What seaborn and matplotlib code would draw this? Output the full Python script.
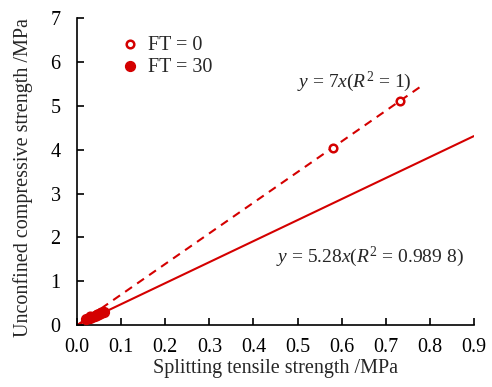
import matplotlib
matplotlib.use("Agg")
import matplotlib.pyplot as plt
import seaborn as sns
import pandas as pd

# Data
ft0_x = [0.030, 0.045, 0.055, 0.581, 0.732]
ft0_y = [0.20, 0.26, 0.30, 4.05, 5.10]
ft30_x = [0.020, 0.028, 0.034, 0.040, 0.045, 0.050, 0.055, 0.060]
ft30_y = [0.14, 0.17, 0.19, 0.21, 0.23, 0.25, 0.27, 0.29]
fit0_x = [0.0, 0.785]
fit0_y = [0.0, 5.48]
fit30_x = [0.0, 0.9]
fit30_y = [0.0, 4.31]
xticks = [0.0, 0.1, 0.2, 0.3, 0.4, 0.5, 0.6, 0.7, 0.8, 0.9]
yticks = [0, 1, 2, 3, 4, 5, 6, 7]

RED = "#D40000"
FS = 14.5

sns.set_theme(style="white")
plt.rcParams["font.family"] = ["Liberation Serif", "DejaVu Serif"]
plt.rcParams["mathtext.fontset"] = "custom"
plt.rcParams["mathtext.rm"] = "Liberation Serif"
plt.rcParams["mathtext.it"] = "Liberation Serif:italic"

fig = plt.figure(figsize=(4.92, 3.87), dpi=100)
ax = fig.add_axes([0.157, 0.160, 0.806, 0.793])

df0 = pd.DataFrame({"x": fit0_x, "y": fit0_y})
df30 = pd.DataFrame({"x": fit30_x, "y": fit30_y})
sns.lineplot(data=df0, x="x", y="y", ax=ax, color=RED, lw=1.5,
             linestyle=(0, (4, 3)), legend=False)
sns.lineplot(data=df30, x="x", y="y", ax=ax, color=RED, lw=1.5, legend=False)

p0 = pd.DataFrame({"x": ft0_x, "y": ft0_y})
p30 = pd.DataFrame({"x": ft30_x, "y": ft30_y})
sns.scatterplot(data=p0, x="x", y="y", ax=ax, facecolor="white", s=30,
                edgecolor=RED, linewidth=1.8, label="FT = 0", zorder=3)
sns.scatterplot(data=p30, x="x", y="y", ax=ax, color=RED, s=50,
                edgecolor=RED, linewidth=1.0, label="FT = 30", zorder=4)

ax.set_xlim(0, 0.9)
ax.set_ylim(0, 7)
ax.set_xticks(xticks)
ax.set_yticks(yticks)
ax.set_xticklabels([f"{v:.1f}" for v in xticks])
ax.set_yticklabels([str(v) for v in yticks])
ax.tick_params(direction="in", length=5, width=1.2, labelsize=FS,
               bottom=True, left=True, top=False, right=False, colors="black")
ax.tick_params(axis="x", pad=9)
ax.tick_params(axis="y", pad=12)
for s in ["top", "right"]:
    ax.spines[s].set_visible(False)
for s in ["left", "bottom"]:
    ax.spines[s].set_color("black")
    ax.spines[s].set_linewidth(1.2)

ax.set_xlabel("Splitting tensile strength /MPa", fontsize=FS, labelpad=2)
ax.set_ylabel("Unconfined compressive strength /MPa", fontsize=FS)
ax.yaxis.set_label_coords(-0.112, 0.48)

ax.text(0.498, 5.42, r"$y$ = 7$x$($R^2$ = 1)", fontsize=14, ha="left", va="baseline")
ax.text(0.452, 1.44, r"$y$ = 5.28$x$($R^2$ = 0.989 8)", fontsize=14, ha="left", va="baseline")

handles, labels = ax.get_legend_handles_labels()
ax.legend(handles, labels,
          loc="upper left", bbox_to_anchor=(0.087, 0.97), frameon=False,
          fontsize=FS, handlelength=1.0, handletextpad=0.4,
          labelspacing=0.15, borderaxespad=0)

fig.savefig("out.png", dpi=100)
